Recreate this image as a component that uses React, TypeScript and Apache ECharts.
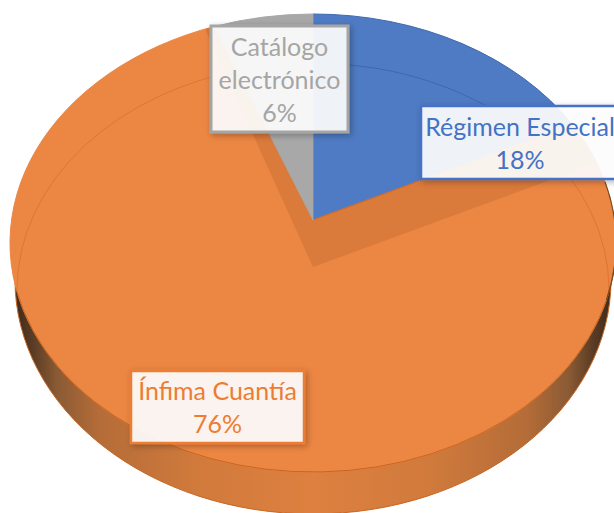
import React, { useEffect, useRef } from "react";
import * as echarts from "echarts";

const categories = ["Régimen Especial", "Ínfima Cuantía", "Catálogo\nelectrónico"];
const shares = [18, 76, 6];

const sliceFill = ["#4F7BC4", "#EC8643", "#A8A8A8"];
const sliceStroke = ["#3F69AE", "#EC8643", "#A8A8A8"];
const labelInk = ["#4472C4", "#ED7D31", "#A5A5A5"];
const labelBoxes = [
  { x: 421, y: 106, w: 198, h: 73 },
  { x: 131, y: 371, w: 173, h: 72 },
  { x: 211, y: 26, w: 137, h: 106 },
];

// Projected disc
const CX = 313, CY = 243, RX = 303, RY = 229;
const APEX = { x: 313, y: 220 };
const WALL_APEX = { x: 313, y: 267 };
const FLAT = 0.78;
const total = shares.reduce((a, b) => a + b, 0);

function rayToRim(o: { x: number; y: number }, dx: number, dy: number) {
  const px = (o.x - CX) / RX, py = (o.y - CY) / RY;
  const vx = dx / RX, vy = dy / RY;
  const a = vx * vx + vy * vy, b = 2 * (px * vx + py * vy), c = px * px + py * py - 1;
  const t = (-b + Math.sqrt(b * b - 4 * a * c)) / (2 * a);
  return { x: o.x + t * dx, y: o.y + t * dy };
}
const dirOf = (turn: number) => {
  const th = turn * 2 * Math.PI;
  return [Math.sin(th), -Math.cos(th) * FLAT];
};
const rimAt = (turn: number, o = APEX) => {
  const [dx, dy] = dirOf(turn);
  return rayToRim(o, dx, dy);
};
const param = (p: { x: number; y: number }) => Math.atan2((p.y - CY) / RY, (p.x - CX) / RX);
function arcTo(from: { x: number; y: number }, to: { x: number; y: number }) {
  let d = param(to) - param(from);
  if (d < 0) d += 2 * Math.PI;
  return `A${RX} ${RY} 0 ${d > Math.PI ? 1 : 0} 1 ${to.x} ${to.y}`;
}
// point of the disc's rim at a given screen height, on the left (-1) or right (1) side
const rimAtY = (y: number, side: number) => {
  const k = (y - CY) / RY;
  return { x: CX + side * RX * Math.sqrt(1 - k * k), y };
};
const startTurn = (i: number) => shares.slice(0, i).reduce((a, b) => a + b, 0) / total;

function renderBase() {
  const d = `M15 280 A298 234 0 0 0 611 280 Z`;
  return {
    type: "path",
    shape: { pathData: d },
    style: {
      fill: new echarts.graphic.LinearGradient(0, 0, 1, 0, [
        { offset: 0, color: "#3f2a1c" },
        { offset: 0.03, color: "#5a3c24" },
        { offset: 0.07, color: "#8a5a34" },
        { offset: 0.14, color: "#B46C38" },
        { offset: 0.3, color: "#D07A3C" },
        { offset: 0.5, color: "#DD8040" },
        { offset: 0.7, color: "#D07A3C" },
        { offset: 0.86, color: "#B46C38" },
        { offset: 0.93, color: "#8a5a34" },
        { offset: 0.97, color: "#5a3c24" },
        { offset: 1, color: "#3f2a1c" },
      ]),
      stroke: "#C9651F",
      lineWidth: 1,
    },
  };
}

function renderSlice(params: any, api: any) {
  const i = params.dataIndex;
  const a = startTurn(i);
  const b = a + api.value(0) / total;
  const p0 = rimAt(a), p1 = rimAt(b);
  const d = `M${APEX.x} ${APEX.y} L${p0.x} ${p0.y} ${arcTo(p0, p1)} Z`;
  const children: any[] = [
    {
      type: "path",
      shape: { pathData: d },
      style: { fill: sliceFill[i], stroke: sliceStroke[i], lineWidth: 1 },
    },
  ];
  if (i === 1) {
    // interior walls of the notch, seen through the orange slice
    const w0 = rimAt(a, WALL_APEX), w1 = rimAtY(29, -1);
    const wall = `M${APEX.x} ${APEX.y} L${p0.x} ${p0.y} ${arcTo(p0, w0)} L${WALL_APEX.x} ${WALL_APEX.y} L${w1.x} ${w1.y} ${arcTo(w1, p1)} Z`;
    children.push({
      type: "path",
      shape: { pathData: wall },
      style: { fill: "#DA7A3B", stroke: "none" },
    });
    children.push({
      type: "path",
      shape: { pathData: `M${p0.x} ${p0.y} L${APEX.x} ${APEX.y} L${p1.x} ${p1.y}` },
      style: { fill: "none", stroke: "#CF6A26", lineWidth: 1 },
    });
  }
  return { type: "group", children };
}

function renderRims() {
  const fl = rimAtY(290, -1), fr = rimAtY(235, 1);
  const front = `M${fl.x} ${fl.y} A${RX} ${RY} 0 0 0 ${fr.x} ${fr.y}`;
  const ra = rimAtY(182, 1), rb = rimAtY(300, 1);
  const rightEdge = `M${ra.x} ${ra.y} A${RX} ${RY} 0 0 1 ${rb.x} ${rb.y}`;
  const ringBlue = "M313 63 A296 227 0 0 1 535 140";
  const ringOrangeR = "M535 140 A296 227 0 0 1 609 290";
  const ringOrangeL = "M17 290 A296 227 0 0 1 252 68";
  const line = (pathData: string, stroke: string, lineWidth = 1) => ({
    type: "path",
    shape: { pathData },
    style: { fill: "none", stroke, lineWidth },
  });
  return {
    type: "group",
    children: [
      line(ringOrangeL, "rgba(205,95,30,0.45)"),
      line(ringOrangeR, "rgba(205,95,30,0.45)"),
      line(ringBlue, "rgba(50,90,165,0.6)"),
      line(front, "#C9651F"),
      line(rightEdge, "#7a4a22", 1.2),
    ],
  };
}

function renderLabel(params: any, api: any) {
  const i = params.dataIndex;
  const box = labelBoxes[i];
  return {
    type: "group",
    children: [
      {
        type: "rect",
        shape: { x: box.x, y: box.y, width: box.w, height: box.h },
        style: {
          fill: "rgba(255,255,255,0.9)",
          stroke: labelInk[i],
          lineWidth: i === 2 ? 3 : 2.5,
          shadowBlur: 6,
          shadowColor: "rgba(0,0,0,0.3)",
          shadowOffsetX: 2,
          shadowOffsetY: 2,
        },
      },
      {
        type: "text",
        x: box.x + box.w / 2,
        y: box.y + box.h / 2 - 0.5,
        style: {
          text: `${categories[i]}\n${api.value(0)}%`,
          fill: labelInk[i],
          font: '25px Lato, "Noto Sans", sans-serif',
          align: "center",
          verticalAlign: "middle",
          lineHeight: 33,
        },
      },
    ],
  };
}

const valueData = shares.map((v) => [v]);

export default function App() {
  const ref = useRef<HTMLDivElement>(null);
  useEffect(() => {
    document.body.style.margin = "0";
    document.body.style.overflow = "hidden";
    const chart = echarts.init(ref.current!, undefined, { renderer: "svg" });
    chart.setOption({
      animation: false,
      backgroundColor: "#ffffff",
      series: [
        { type: "custom", coordinateSystem: "none", silent: true, z: 1, data: [[0]], renderItem: renderBase },
        { type: "custom", coordinateSystem: "none", silent: true, z: 2, data: valueData, renderItem: renderSlice },
        { type: "custom", coordinateSystem: "none", silent: true, z: 3, data: [[0]], renderItem: renderRims },
        { type: "custom", coordinateSystem: "none", silent: true, z: 4, data: valueData, renderItem: renderLabel },
      ],
    });
    return () => chart.dispose();
  }, []);
  return <div ref={ref} style={{ width: 614, height: 513 }} />;
}
